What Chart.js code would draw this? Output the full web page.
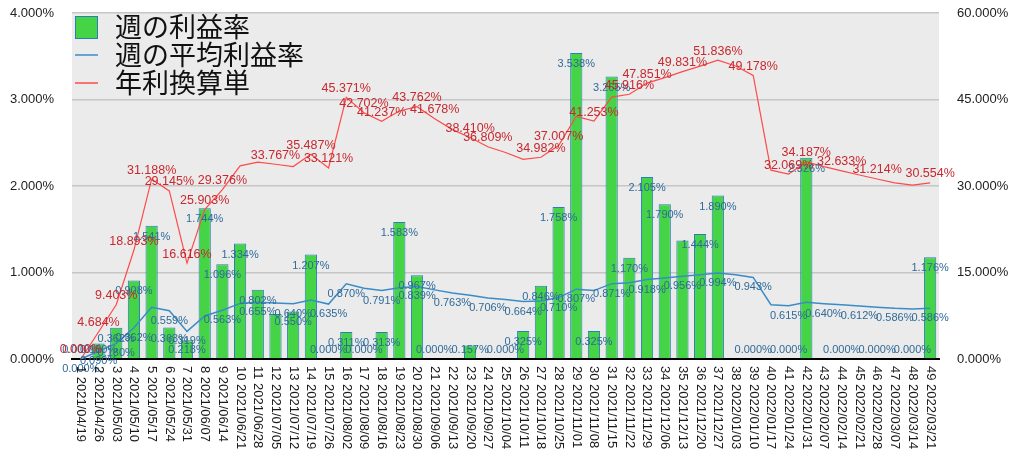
<!DOCTYPE html>
<html lang="ja">
<head>
    <meta charset="UTF-8">
    <title>週の利益率</title>
    <style>
        body {
            margin: 0;
            background-color: #fff;
        }
        #chart-wrap {
            width: 1024px;
            height: 464px;
        }
    </style>
</head>
<body>
    <div id="chart-wrap">
        <canvas id="chart1" width="1024" height="464"></canvas>
    </div>

    <script src="https://cdn.jsdelivr.net/npm/chart.js"></script>
    <script>
        const weekLabels = ['1 2021/04/19', '2 2021/04/26', '3 2021/05/03', '4 2021/05/10', '5 2021/05/17', '6 2021/05/24',
            '7 2021/05/31', '8 2021/06/07', '9 2021/06/14', '10 2021/06/21', '11 2021/06/28', '12 2021/07/05',
            '13 2021/07/12', '14 2021/07/19', '15 2021/07/26', '16 2021/08/02', '17 2021/08/09', '18 2021/08/16',
            '19 2021/08/23', '20 2021/08/30', '21 2021/09/06', '22 2021/09/13', '23 2021/09/20', '24 2021/09/27',
            '25 2021/10/04', '26 2021/10/11', '27 2021/10/18', '28 2021/10/25', '29 2021/11/01', '30 2021/11/08',
            '31 2021/11/15', '32 2021/11/22', '33 2021/11/29', '34 2021/12/06', '35 2021/12/13', '36 2021/12/20',
            '37 2021/12/27', '38 2022/01/03', '39 2022/01/10', '40 2022/01/17', '41 2022/01/24', '42 2022/01/31',
            '43 2022/02/07', '44 2022/02/14', '45 2022/02/21', '46 2022/02/28', '47 2022/03/07', '48 2022/03/14',
            '49 2022/03/21'];

        // 週の利益率 (%)
        const weeklyRate = [0.000, 0.180, 0.362, 0.908, 1.541, 0.363, 0.218, 1.744, 1.096, 1.334, 0.802, 0.520,
            0.550, 1.207, 0.000, 0.311, 0.000, 0.313, 1.583, 0.967, 0.000, 0.000, 0.157, 0.000,
            0.000, 0.325, 0.846, 1.758, 3.538, 0.325, 3.265, 1.170, 2.105, 1.790, 1.371, 1.444,
            1.890, 0.000, 0.000, 0.000, 0.000, 2.326, 0.000, 0.000, 0.000, 0.000, 0.000, 0.000,
            1.176];

        // 週の平均利益率 (%)
        const avgRate = [0.000, 0.090, 0.180, 0.362, 0.598, 0.559, 0.319, 0.497, 0.563, 0.643, 0.655, 0.648,
            0.640, 0.681, 0.635, 0.870, 0.819, 0.791, 0.825, 0.839, 0.799, 0.763, 0.737, 0.706,
            0.687, 0.664, 0.671, 0.710, 0.807, 0.791, 0.871, 0.881, 0.918, 0.936, 0.956, 0.975,
            0.994, 0.975, 0.943, 0.628, 0.615, 0.656, 0.640, 0.626, 0.612, 0.599, 0.586, 0.578,
            0.586];

        // 年利換算単 (%)
        const annualRate = [0.000, 4.684, 9.403, 18.893, 31.188, 29.145, 16.616, 25.903, 29.376, 33.500, 34.150, 33.767,
            33.370, 35.487, 33.121, 45.371, 42.702, 41.237, 43.000, 43.762, 41.678, 39.780, 38.410, 36.809,
            35.800, 34.620, 34.982, 37.007, 42.080, 41.253, 45.410, 45.916, 47.851, 48.800, 49.831, 50.800,
            51.836, 50.800, 49.178, 32.740, 32.069, 34.187, 33.370, 32.633, 31.910, 31.214, 30.550, 30.140,
            30.554];

        // weeks whose value label is shown in the original
        const barLabelWeeks = [1, 2, 3, 4, 5, 6, 7, 8, 9, 10, 11, 13, 14, 15, 16, 17, 18, 19, 20, 21, 23, 25, 26, 27,
            28, 29, 30, 31, 32, 33, 34, 36, 37, 39, 41, 42, 44, 46, 48, 49];
        const avgLabelWeeks = [1, 2, 3, 4, 6, 7, 9, 11, 13, 15, 16, 18, 20, 22, 24, 26, 28, 29, 31, 33, 35, 37, 39,
            41, 43, 45, 47, 49];
        const annualLabelWeeks = [1, 2, 3, 4, 5, 6, 7, 8, 9, 12, 14, 15, 16, 17, 18, 20, 21, 23, 24, 27, 28, 30, 32,
            33, 35, 37, 39, 41, 42, 44, 46, 49];

        const leftTicks = [0, 1, 2, 3, 4];
        const rightTicks = [0, 15, 30, 45, 60];

        const numFont = '"Liberation Sans", Arial, sans-serif';
        const jpFont = '"Noto Sans CJK JP", sans-serif';

        // grey plot background
        const plotBg = {
            id: 'plotBg',
            beforeDraw(chart) {
                const { ctx, chartArea: a } = chart;
                ctx.save();
                ctx.fillStyle = '#ebebeb';
                ctx.fillRect(a.left, a.top, a.right - a.left, a.bottom - a.top);
                ctx.restore();
            }
        };

        // x labels read top to bottom
        const xLabels = {
            id: 'xLabels',
            afterDraw(chart) {
                const { ctx } = chart;
                const xs = chart.scales.x;
                ctx.save();
                ctx.font = '13px ' + numFont;
                ctx.fillStyle = '#1a1a1a';
                ctx.textAlign = 'left';
                ctx.textBaseline = 'middle';
                weekLabels.forEach((lab, i) => {
                    const x = xs.getPixelForTick(i);
                    ctx.save();
                    ctx.translate(x, xs.top + 7);
                    ctx.rotate(Math.PI / 2);
                    ctx.fillText(lab, 0, 0);
                    ctx.restore();
                });
                ctx.restore();
            }
        };

        const valueLabels = {
            id: 'valueLabels',
            afterDatasetsDraw(chart) {
                const { ctx } = chart;
                const zeroY = chart.scales.y.getPixelForValue(0);
                ctx.save();
                ctx.textAlign = 'center';
                ctx.textBaseline = 'middle';

                ctx.font = '11px ' + numFont;
                ctx.fillStyle = '#2f6a98';
                chart.getDatasetMeta(0).data.forEach((el, i) => {
                    if (!barLabelWeeks.includes(i + 1)) return;
                    const y = Math.min(el.y + 11, zeroY - 9);
                    ctx.fillText(weeklyRate[i].toFixed(3) + '%', el.x, y);
                });
                chart.getDatasetMeta(1).data.forEach((el, i) => {
                    if (!avgLabelWeeks.includes(i + 1)) return;
                    ctx.fillText(avgRate[i].toFixed(3) + '%', el.x, el.y + 10);
                });

                ctx.font = '12.5px ' + numFont;
                ctx.fillStyle = '#c8282e';
                chart.getDatasetMeta(2).data.forEach((el, i) => {
                    if (!annualLabelWeeks.includes(i + 1)) return;
                    ctx.fillText(annualRate[i].toFixed(3) + '%', el.x, el.y - 9);
                });
                ctx.restore();
            }
        };

        const bigLegend = {
            id: 'bigLegend',
            afterDraw(chart) {
                const { ctx, chartArea: a } = chart;
                const ds = chart.data.datasets;
                const x0 = a.left + 3;
                ctx.save();
                ctx.font = '27px ' + jpFont;
                ctx.textBaseline = 'middle';
                ctx.textAlign = 'left';
                ds.forEach((d, i) => {
                    const cy = a.top + 14 + i * 28;
                    if (d.type === 'bar') {
                        ctx.fillStyle = d.backgroundColor;
                        ctx.fillRect(x0, cy - 11, 23, 23);
                        ctx.strokeStyle = d.borderColor;
                        ctx.lineWidth = 1;
                        ctx.strokeRect(x0 + 0.5, cy - 10.5, 22, 22);
                    } else {
                        ctx.strokeStyle = d.borderColor;
                        ctx.lineWidth = 1.5;
                        ctx.beginPath();
                        ctx.moveTo(x0, cy);
                        ctx.lineTo(x0 + 23, cy);
                        ctx.stroke();
                    }
                    ctx.fillStyle = '#111';
                    ctx.fillText(d.label, x0 + 40, cy);
                });
                ctx.restore();
            }
        };

        const noPad = s => { s.paddingTop = 0; s.paddingBottom = 0; };

        const ctx = document.getElementById('chart1').getContext('2d');
        new Chart(ctx, {
            data: {
                labels: weekLabels,
                datasets: [
                    {
                        type: 'bar',
                        label: '週の利益率',
                        data: weeklyRate,
                        backgroundColor: '#45d445',
                        borderColor: '#2b7bbd',
                        borderWidth: 1,
                        categoryPercentage: 1,
                        barPercentage: 0.69,
                        yAxisID: 'y',
                        order: 3
                    },
                    {
                        type: 'line',
                        label: '週の平均利益率',
                        data: avgRate,
                        borderColor: '#3a8cc8',
                        borderWidth: 1.5,
                        pointRadius: 0,
                        tension: 0,
                        yAxisID: 'y',
                        order: 2
                    },
                    {
                        type: 'line',
                        label: '年利換算単',
                        data: annualRate,
                        borderColor: '#ff4a4a',
                        borderWidth: 1.2,
                        pointRadius: 0,
                        tension: 0,
                        yAxisID: 'y2',
                        order: 1
                    }
                ]
            },
            options: {
                responsive: false,
                animation: false,
                devicePixelRatio: 1,
                layout: { padding: { top: 13, left: 0, right: 0, bottom: 0 } },
                plugins: {
                    legend: { display: false },
                    tooltip: { enabled: false }
                },
                scales: {
                    x: {
                        grid: { display: false },
                        border: { display: true, color: '#000', width: 2 },
                        ticks: { display: false },
                        afterFit: s => { s.height = 105; s.paddingLeft = 0; s.paddingRight = 0; }
                    },
                    y: {
                        position: 'left',
                        min: 0,
                        max: 4,
                        afterBuildTicks: s => { s.ticks = leftTicks.map(v => ({ value: v })); },
                        grid: { color: '#c6c6c6', lineWidth: 1.5, drawTicks: false },
                        border: { display: false },
                        ticks: {
                            padding: 18,
                            color: '#222',
                            font: { family: numFont, size: 13 },
                            callback: v => v.toFixed(3) + '%'
                        },
                        afterFit: s => { s.width = 72; noPad(s); }
                    },
                    y2: {
                        position: 'right',
                        min: 0,
                        max: 60,
                        afterBuildTicks: s => { s.ticks = rightTicks.map(v => ({ value: v })); },
                        grid: { display: false, drawTicks: false },
                        border: { display: false },
                        ticks: {
                            padding: 18,
                            color: '#222',
                            font: { family: numFont, size: 13 },
                            callback: v => v.toFixed(3) + '%'
                        },
                        afterFit: s => { s.width = 85; noPad(s); }
                    }
                }
            },
            plugins: [plotBg, valueLabels, xLabels, bigLegend]
        });
    </script>
</body>
</html>
